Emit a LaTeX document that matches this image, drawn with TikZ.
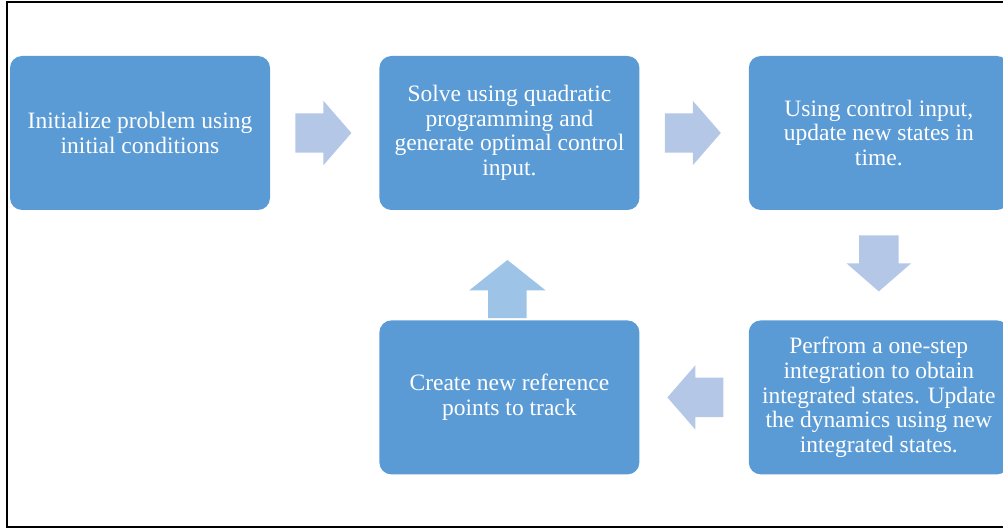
\documentclass[tikz,border=0pt]{standalone}
\usepackage{fontspec}
\setmainfont{Liberation Serif}
\usepackage{tikz}
\usetikzlibrary{positioning,shapes.arrows,calc}
\definecolor{boxblue}{HTML}{5B9BD5}
\definecolor{arrowblue}{HTML}{B4C7E7}
\definecolor{uparrowblue}{HTML}{9DC3E6}

\begin{document}
\begin{tikzpicture}[x=1pt, y=1pt,
    box/.style={shape=rectangle, rounded corners=12pt, fill=boxblue, text=white,
        minimum width=260pt, minimum height=154pt, inner sep=0pt, align=center,
        font=\fontsize{23.5}{24.7}\selectfont},
    blockarrow/.style={shape=single arrow, fill=arrowblue, anchor=tail,
        inner xsep=0pt, inner ysep=19.5pt, minimum height=56pt,
        single arrow head extend=12.5pt, single arrow tip angle=98,
        single arrow head indent=0pt},
    vblockarrow/.style={blockarrow, inner xsep=19.5pt, inner ysep=0pt}]
    \useasboundingbox (0,0) rectangle (1003,-529);
    \clip (0,0) rectangle (1003,-529);
    \draw[line width=2pt] (7,-2) rectangle (1012,-527);

    \node[box] (init) at (140,-133) {Initialize problem using\\initial conditions};
    \node[box, right=109pt of init] (solve) {Solve using quadratic\\programming and\\generate optimal control\\input.};
    \node[box, right=109pt of solve] (update) {Using control input,\\update new states in\\time.};
    \node[box, below=110pt of update] (integrate) {Perfrom a one-step\\integration to obtain\\integrated states. Update\\the dynamics using new\\integrated states.};
    \node[box, left=109pt of integrate] (refpts) {Create new reference\\points to track};

    \node[blockarrow] (a1) at ($(init.east)+(25,0)$) {};
    \node[blockarrow] (a2) at ($(solve.east)+(25,0)$) {};
    \node[vblockarrow, shape border rotate=270] (a3) at ($(update.south)+(0,-25)$) {};
    \node[blockarrow, shape border rotate=180] (a4) at ($(integrate.west)+(-25,0)$) {};
    \node[vblockarrow, fill=uparrowblue, shape border rotate=90, minimum height=58pt,
        inner xsep=19pt, single arrow head extend=19pt, single arrow tip angle=103]
        (a5) at ($(refpts.north)+(-2,2)$) {};
\end{tikzpicture}
\end{document}
